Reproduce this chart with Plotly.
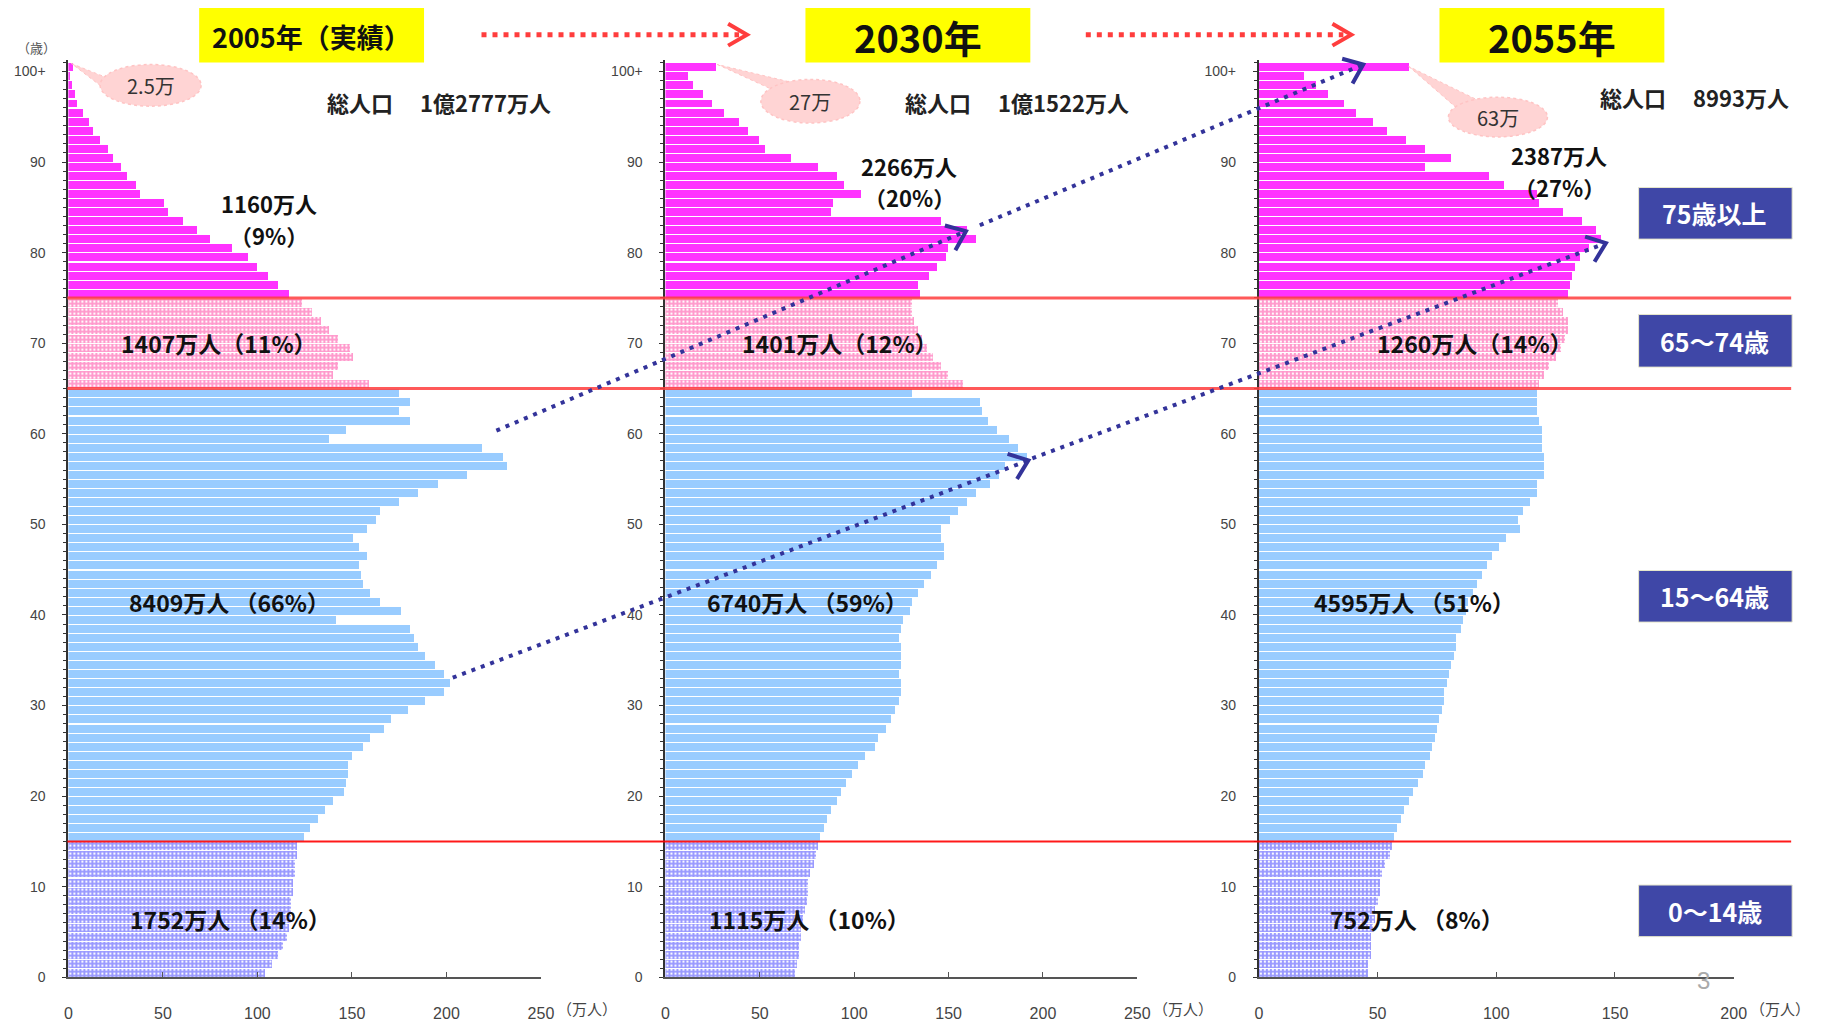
import math
import plotly.graph_objects as go

W, H = 1821, 1024

# ---------------- data ----------------
age_tick_vals = [0, 10, 20, 30, 40, 50, 60, 70, 80, 90, 100]
age_tick_text = ["0", "10", "20", "30", "40", "50", "60", "70", "80", "90", "100+"]
x_ticks_250 = [0, 50, 100, 150, 200, 250]
x_ticks_200 = [0, 50, 100, 150, 200]

ages_0_14 = list(range(0, 15))
ages_15_64 = list(range(15, 65))
ages_65_74 = list(range(65, 75))
ages_75_up = list(range(75, 101))

# 2005 (万人)
p2005_0_14 = [104, 108, 111, 114, 116, 117, 118, 118, 118, 119, 119, 120, 120, 121, 121]
p2005_15_64 = [125, 128, 132, 136, 140, 146, 147, 148, 148, 150,
               156, 160, 167, 171, 180, 189, 199, 202, 199, 194,
               189, 185, 183, 181, 142, 176, 165, 160, 156, 155,
               154, 158, 154, 151, 158, 163, 165, 175, 185, 196,
               211, 232, 230, 219, 138, 147, 181, 175, 181, 175]
p2005_65_74 = [159, 140, 143, 151, 149, 143, 138, 134, 129, 124]
p2005_75_up = [117, 111, 106, 100, 95, 87, 75, 68, 61, 53, 51, 38, 36, 31, 28,
               24, 21, 17, 13, 11, 8, 5, 3.5, 2.3, 1.2, 2.5]

# 2030
p2030_0_14 = [69, 70, 71, 71, 72, 72, 73, 74, 75, 76, 76, 77, 79, 80, 81]
p2030_15_64 = [82, 84, 86, 88, 91, 93, 96, 99, 102, 106,
               111, 113, 117, 120, 122, 124, 125, 125, 124, 125,
               125, 125, 124, 125, 126, 130, 131, 134, 137, 141,
               144, 148, 148, 146, 146, 151, 155, 160, 165, 172,
               177, 180, 192, 187, 182, 176, 171, 168, 167, 131]
p2030_65_74 = [158, 150, 146, 142, 139, 136, 134, 132, 131, 131]
p2030_75_up = [135, 134, 140, 144, 149, 150, 165, 160, 146, 88, 89, 104, 95, 91,
               81, 67, 53, 50, 44, 39, 31, 25, 20, 15, 12, 27]

# 2055
p2055_0_14 = [46, 46, 47, 47, 47, 48, 49, 49, 50, 51, 51, 52, 53, 55, 56]
p2055_15_64 = [57, 58, 60, 61, 63, 65, 67, 69, 70, 72,
               73, 74, 75, 76, 77, 78, 78, 79, 80, 81,
               82, 83, 83, 85, 86, 87, 88, 90, 92, 94,
               96, 98, 101, 104, 110, 109, 111, 114, 117, 117,
               120, 120, 120, 119, 119, 119, 118, 117, 117, 117]
p2055_65_74 = [118, 120, 122, 125, 127, 129, 130, 130, 128, 126]
p2055_75_up = [130, 131, 132, 133, 135, 139, 144, 142, 136, 128, 118, 117, 103, 97,
               70, 81, 70, 62, 54, 48, 41, 36, 29, 24, 19, 63]

years = ["2005年（実績）", "2030年", "2055年"]
totals = ["総人口　 1億2777万人", "総人口　 1億1522万人", "総人口　 8993万人"]
top_labels = ["2.5万", "27万", "63万"]
grp_75 = [("1160万人", "（9%）"), ("2266万人", "（20%）"), ("2387万人", "（27%）")]
grp_65 = ["1407万人（11%）", "1401万人（12%）", "1260万人（14%）"]
grp_15 = ["8409万人 （66%）", "6740万人 （59%）", "4595万人 （51%）"]
grp_0 = ["1752万人 （14%）", "1115万人 （10%）", "752万人 （8%）"]
box_labels = ["75歳以上", "65～74歳", "15～64歳", "0～14歳"]

# ---------------- helpers ----------------
def px(x):
    return x / W

def py(y):
    return 1 - y / H

CJK = "Noto Sans CJK JP"
NUM = "Liberation Sans, Arial, sans-serif"

C_MAG = "#ff33ff"
C_PINK = "#ff99cc"
C_BLUE = "#99ccff"
C_PURP = "#9999ff"

panels = [
    dict(x0=65, x1=542, rng=250, ticks=x_ticks_250,
         data=[p2005_0_14, p2005_15_64, p2005_65_74, p2005_75_up]),
    dict(x0=667.7, x1=1144, rng=250, ticks=x_ticks_250,
         data=[p2030_0_14, p2030_15_64, p2030_65_74, p2030_75_up]),
    dict(x0=1266.7, x1=1746, rng=200, ticks=x_ticks_200,
         data=[p2055_0_14, p2055_15_64, p2055_65_74, p2055_75_up]),
]
age_groups = [ages_0_14, ages_15_64, ages_65_74, ages_75_up]
styles = [
    dict(color=C_PURP, pattern=dict(shape=".", fgcolor="white", bgcolor=C_PURP,
                                    size=4, solidity=0.25, fillmode="replace")),
    dict(color=C_BLUE),
    dict(color=C_PINK, pattern=dict(shape=".", fgcolor="white", bgcolor=C_PINK,
                                    size=4, solidity=0.25, fillmode="replace")),
    dict(color=C_MAG),
]

Y_BOT, Y_PER = 985.0, 9.13
Y_MAX = 101.3
ydom = [(H - Y_BOT) / H, (H - (Y_BOT - Y_MAX * Y_PER)) / H]

fig = go.Figure()
layout = dict(width=W, height=H, margin=dict(l=0, r=0, t=0, b=0),
              plot_bgcolor="white", paper_bgcolor="white", showlegend=False,
              bargap=0, barmode="overlay")

for i, p in enumerate(panels):
    xa = "x" if i == 0 else f"x{i+1}"
    ya = "y" if i == 0 else f"y{i+1}"
    for grp, vals, st in zip(age_groups, p["data"], styles):
        fig.add_trace(go.Bar(
            x=vals, y=grp, orientation="h", width=0.88, offset=0.06,
            marker=dict(line=dict(width=0), **st),
            xaxis=xa, yaxis=ya, hoverinfo="skip"))
    xkey = "xaxis" if i == 0 else f"xaxis{i+1}"
    ykey = "yaxis" if i == 0 else f"yaxis{i+1}"
    layout[xkey] = dict(
        domain=[px(p["x0"]), px(p["x1"])], range=[0, p["rng"]], anchor=ya,
        showline=True, linecolor="#555", linewidth=2, ticks="inside",
        tickvals=p["ticks"], ticklen=5, tickcolor="#555", tickwidth=1,
        tickfont=dict(size=16, color="#444", family=NUM),
        ticklabelstandoff=20, showgrid=False, zeroline=False, fixedrange=True)
    layout[ykey] = dict(
        domain=ydom, range=[0, Y_MAX], anchor=xa,
        showline=True, linecolor="#333", linewidth=2, ticks="outside",
        tickvals=age_tick_vals, ticktext=age_tick_text, ticklen=4,
        tickcolor="#333", tickwidth=1,
        minor=dict(tickmode="linear", tick0=0, dtick=1, ticks="outside",
                   ticklen=3, tickcolor="#333", showgrid=False),
        tickfont=dict(size=14, color="#444", family=NUM),
        ticklabelstandoff=14, showgrid=False, zeroline=False, fixedrange=True)

shapes = []
ann = []

def text(x, y, t, size, color="#111", family=CJK, xanchor="center", bold=False):
    ann.append(dict(x=px(x), y=py(y), xref="paper", yref="paper",
                    text=f"<b>{t}</b>" if bold else t, showarrow=False,
                    xanchor=xanchor, yanchor="middle",
                    font=dict(size=size, color=color, family=family)))

# red boundary lines
for age, wdt, col in [(75, 3, "rgba(255,60,60,0.85)"), (65, 3, "rgba(255,60,60,0.85)"),
                      (15, 2, "rgba(255,0,0,0.9)")]:
    shapes.append(dict(type="line", xref="paper", yref="y", x0=px(64), x1=px(1804),
                       y0=age, y1=age, line=dict(color=col, width=wdt)))

def chevron(tip, frm, L, ang, color, width):
    dx, dy = tip[0] - frm[0], tip[1] - frm[1]
    n = math.hypot(dx, dy)
    ux, uy = -dx / n, -dy / n
    pts = []
    for s in (1, -1):
        a = math.radians(ang * s)
        rx = ux * math.cos(a) - uy * math.sin(a)
        ry = ux * math.sin(a) + uy * math.cos(a)
        pts.append((tip[0] + L * rx, tip[1] + L * ry))
    path = (f"M {px(pts[0][0])} {py(pts[0][1])} L {px(tip[0])} {py(tip[1])} "
            f"L {px(pts[1][0])} {py(pts[1][1])}")
    return dict(type="path", xref="paper", yref="paper", path=path,
                line=dict(color=color, width=width))

# title boxes + red dotted arrows
boxes = [(197, 424), (809, 1036), (1449, 1676)]
for (bx0, bx1), t, fs in zip(boxes, years, [27, 38, 38]):
    shapes.append(dict(type="rect", xref="paper", yref="paper", x0=px(bx0), x1=px(bx1),
                       y0=py(63), y1=py(8), fillcolor="#ffff00", line=dict(width=0),
                       layer="below"))
    text((bx0 + bx1) / 2, 37, t, fs, color="#111", bold=True)

RED = "#ff3d3d"
for xs, xe in [(482, 742), (1092, 1352)]:
    shapes.append(dict(type="line", xref="paper", yref="paper", x0=px(xs), x1=px(xe),
                       y0=py(35), y1=py(35), line=dict(color=RED, width=5, dash="5px,6px")))
    shapes.append(chevron((xe + 8, 35), (xs, 35), 22, 30, RED, 4))

# blue cohort arrows
BLU = "#33339a"
for s, e in [((497, 434), (971, 233)), ((985, 227), (1372, 65)),
             ((453, 683), (1034, 464)), ((1038, 462), (1617, 245))]:
    shapes.append(dict(type="line", xref="paper", yref="paper", x0=px(s[0]), y0=py(s[1]),
                       x1=px(e[0]), y1=py(e[1]),
                       line=dict(color=BLU, width=4, dash="4px,6px")))
    shapes.append(chevron(e, s, 22, 38, BLU, 4))

# callout bubbles
bubbles = [
    dict(c=(148, 86), r=(51, 21), tip=(68, 64), b1=(103, 78), b2=(110, 96)),
    dict(c=(814, 102), r=(50, 22), tip=(720, 65), b1=(775, 90), b2=(795, 83)),
    dict(c=(1508, 118), r=(50, 20), tip=(1418, 67), b1=(1470, 112), b2=(1490, 102)),
]
PINKB = "#ffd4d4"
for b, t in zip(bubbles, top_labels):
    tip, b1, b2 = b["tip"], b["b1"], b["b2"]
    shapes.append(dict(type="path", xref="paper", yref="paper",
                       path=f"M {px(tip[0])} {py(tip[1])} L {px(b1[0])} {py(b1[1])} "
                            f"L {px(b2[0])} {py(b2[1])} Z",
                       fillcolor=PINKB, line=dict(color="#ffc4c4", width=1, dash="dot")))
    cx, cy = b["c"]
    rx, ry = b["r"]
    shapes.append(dict(type="circle", xref="paper", yref="paper",
                       x0=px(cx - rx), x1=px(cx + rx), y0=py(cy + ry), y1=py(cy - ry),
                       fillcolor=PINKB, line=dict(color="#ffc4c4", width=1.5, dash="dot")))
    text(cx, cy, t, 20, color="#333")

# total population
for (x, y), t in zip([(439, 103), (1023, 103), (1706, 98)], totals):
    text(x, y, t, 22, color="#222", bold=True)

# group labels
for (x, y), (a, b) in zip([(267, 205), (914, 167), (1570, 156)], grp_75):
    text(x, y, a, 22, bold=True)
    text(x, y + 32, b, 22, bold=True)
for xs, lbls, y in [([116, 743, 1384], grp_65, 346), ([124, 708, 1320], grp_15, 607),
                    ([125, 710, 1336], grp_0, 926)]:
    for x, t in zip(xs, lbls):
        text(x, y, t, 23, xanchor="left", bold=True)

# right-side category boxes
for (y0, y1), t in zip([(189, 241), (317, 370), (575, 627), (892, 944)], box_labels):
    shapes.append(dict(type="rect", xref="paper", yref="paper", x0=px(1650), x1=px(1805),
                       y0=py(y1), y1=py(y0), fillcolor="#3f47a7",
                       line=dict(color="#e6e6cc", width=1)))
    text(1727, (y0 + y1) / 2, t, 25, color="white", bold=True)

# unit labels (placed just right of the last tick label)
for x in [556, 1158, 1760]:
    text(x, 1016, "（万人）", 15, color="#444", xanchor="left")
text(33, 48, "（歳）", 13, color="#555")
text(1716, 988, "3", 24, color="#aaaaaa", family="Liberation Sans")

layout["shapes"] = shapes
layout["annotations"] = ann
fig.update_layout(**layout)
fig.write_html("out.html")
